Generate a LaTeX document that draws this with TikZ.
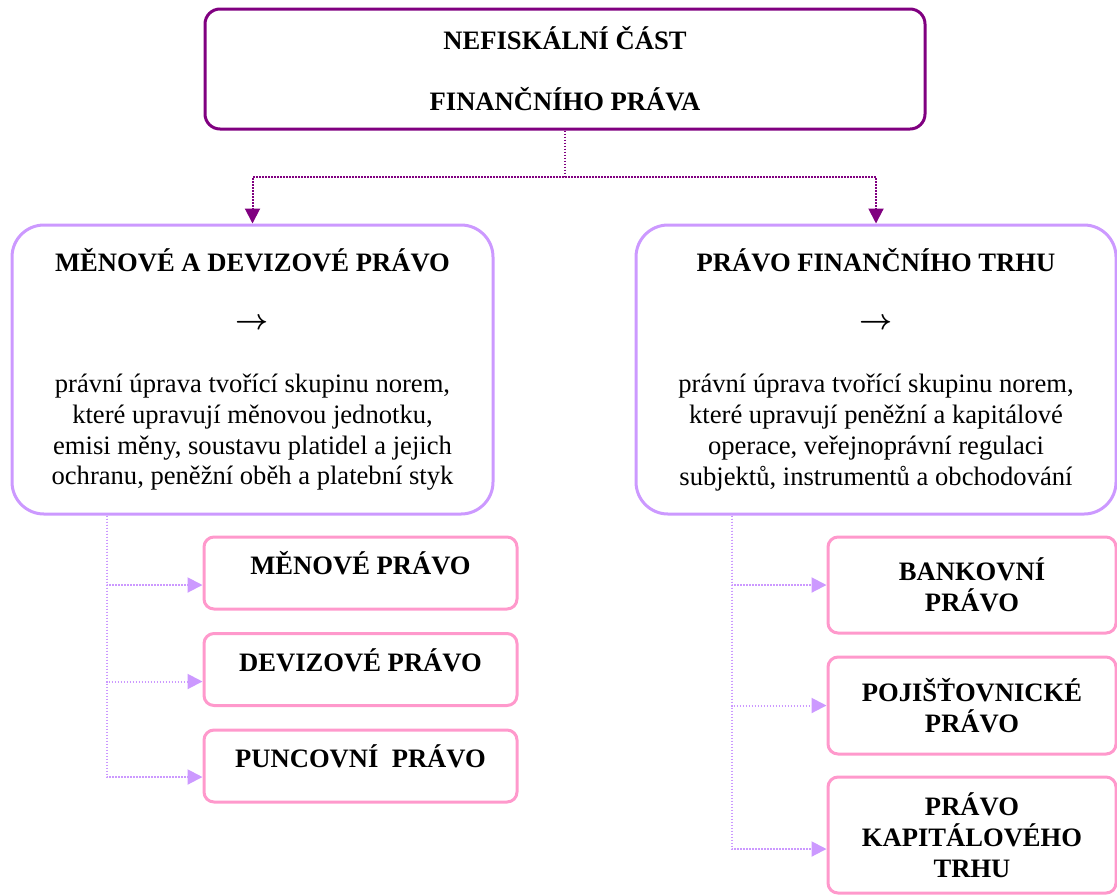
\documentclass[tikz,border=0pt]{standalone}
\usepackage{fontspec}
\setmainfont{Liberation Serif}
\usetikzlibrary{arrows.meta,calc}
\definecolor{darkviolet}{RGB}{128,0,128}
\definecolor{lilac}{RGB}{204,153,255}
\definecolor{rosy}{RGB}{255,153,204}
\newcommand{\chartsize}{\fontsize{13.3}{15.4}\selectfont}
\newcommand{\leadsign}{{\boldmath$\rightarrow$}}

\begin{document}
\begin{tikzpicture}[x=0.5pt,y=0.5pt,yscale=-1,xscale=1,
  rootbox/.style={draw=darkviolet,line width=1.5pt,rounded corners=7.5pt,minimum width=360pt,minimum height=60pt,align=center,font=\chartsize\bfseries},
  areabox/.style={draw=lilac,line width=1.5pt,rounded corners=16pt,minimum width=240.5pt,minimum height=144.5pt,align=center,font=\chartsize},
  lawbox/.style={draw=rosy,line width=1.5pt,rounded corners=5pt,inner sep=2pt,align=center,font=\chartsize\bfseries},
  rootlink/.style={darkviolet,line width=1pt,dash pattern=on 0.75pt off 0.75pt,-{Triangle[width=7.5pt,length=7.5pt]}},
  lawlink/.style={lilac,line width=1pt,dash pattern=on 0.75pt off 0.75pt,-{Triangle[width=7.5pt,length=7.5pt]}}]
\useasboundingbox (0,0) rectangle (1117,895);

%Rounded Rect
\node[rootbox] (root) at (565,69) {NEFISKÁLNÍ ČÁST\\[15.1pt]FINANČNÍHO PRÁVA};

%Rounded Rect
\node[areabox] (menove) at (252.5,369.5) {{\bfseries MĚNOVÉ A DEVIZOVÉ PRÁVO}\\[13.5pt]
  \leadsign\\[16.3pt]
  právní úprava tvořící skupinu norem,\\
  které upravují měnovou jednotku,\\
  emisi měny, soustavu platidel a jejich\\
  ochranu, peněžní oběh a platební styk};
%Rounded Rect
\node[areabox,minimum width=240pt] (trh) at (876,369.5) {{\bfseries PRÁVO FINANČNÍHO TRHU}\\[13.5pt]
  \leadsign\\[16.3pt]
  právní úprava tvořící skupinu norem,\\
  které upravují peněžní a kapitálové\\
  operace, veřejnoprávní regulaci\\
  subjektů, instrumentů a obchodování};

%Rounded Rect
\node[lawbox,minimum width=156.5pt,minimum height=36pt,text height=9.5pt,text depth=8pt] (mena) at (360.5,573) {MĚNOVÉ PRÁVO};
\node[lawbox,minimum width=156.5pt,minimum height=36pt,text height=9.5pt,text depth=8pt] (devizy) at (360.5,669.5) {DEVIZOVÉ PRÁVO};
\node[lawbox,minimum width=156.5pt,minimum height=36pt,text height=9.5pt,text depth=8pt] (punc) at (360.5,766) {PUNCOVNÍ\ \ PRÁVO};

%Rounded Rect
\node[lawbox,minimum width=144pt,minimum height=48pt] (banky) at (972,585) {BANKOVNÍ\\PRÁVO};
\node[lawbox,minimum width=144pt,minimum height=48.5pt] (pojist) at (972,705.5) {POJIŠŤOVNICKÉ\\PRÁVO};
\node[lawbox,minimum width=144pt,minimum height=58pt] (kapital) at (972,835) {PRÁVO\\KAPITÁLOVÉHO\\TRHU};

%Straight Lines
\coordinate (fork) at (565,177);
\draw[rootlink] (root.south) -- (fork) -| (menove.north);
\draw[rootlink] (fork) -| (trh.north);

%Straight Lines
\coordinate (menovefoot) at ([xshift=48pt]menove.south west);
\draw[lawlink] (menovefoot) |- ($(mena.west)+(0,12)$);
\draw[lawlink] (menovefoot) |- ($(devizy.west)+(0,12)$);
\draw[lawlink] (menovefoot) |- ($(punc.west)+(0,11)$);

%Straight Lines
\coordinate (trhfoot) at ([xshift=48.5pt]trh.south west);
\draw[lawlink] (trhfoot) |- (banky.west);
\draw[lawlink] (trhfoot) |- (pojist.west);
\draw[lawlink] (trhfoot) |- ($(kapital.west)+(0,14)$);

\end{tikzpicture}
\end{document}
